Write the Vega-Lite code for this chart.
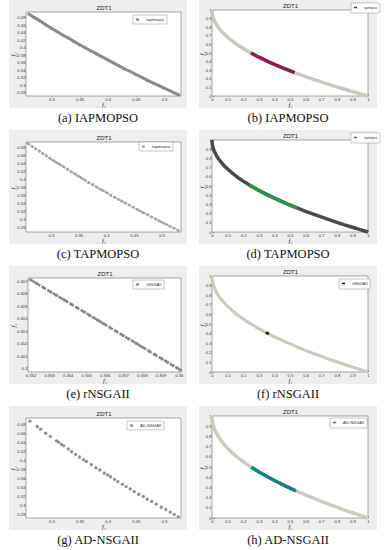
{
 "$schema": "https://vega.github.io/schema/vega-lite/v6.json",
 "background": "white",
 "padding": {"left": 9, "top": 0, "right": 0, "bottom": 0},
 "spacing": 5,
 "datasets": {
  "a": [{"f1":0.26,"f2":0.49},{"f1":0.27,"f2":0.48},{"f1":0.28,"f2":0.471},{"f1":0.29,"f2":0.461},{"f1":0.3,"f2":0.452},{"f1":0.31,"f2":0.443},{"f1":0.32,"f2":0.434},{"f1":0.33,"f2":0.426},{"f1":0.34,"f2":0.417},{"f1":0.35,"f2":0.408},{"f1":0.36,"f2":0.4},{"f1":0.37,"f2":0.392},{"f1":0.38,"f2":0.384},{"f1":0.39,"f2":0.376},{"f1":0.4,"f2":0.368},{"f1":0.41,"f2":0.36},{"f1":0.42,"f2":0.352},{"f1":0.43,"f2":0.344},{"f1":0.44,"f2":0.337},{"f1":0.45,"f2":0.329},{"f1":0.46,"f2":0.322},{"f1":0.47,"f2":0.314},{"f1":0.48,"f2":0.307},{"f1":0.49,"f2":0.3},{"f1":0.5,"f2":0.293},{"f1":0.51,"f2":0.286},{"f1":0.52,"f2":0.279},{"f1":0.526,"f2":0.275}],
  "c": [{"f1":0.258,"f2":0.492},{"f1":0.266,"f2":0.484},{"f1":0.272,"f2":0.478},{"f1":0.279,"f2":0.472},{"f1":0.286,"f2":0.465},{"f1":0.292,"f2":0.46},{"f1":0.3,"f2":0.452},{"f1":0.307,"f2":0.446},{"f1":0.314,"f2":0.44},{"f1":0.322,"f2":0.433},{"f1":0.33,"f2":0.426},{"f1":0.338,"f2":0.419},{"f1":0.345,"f2":0.413},{"f1":0.353,"f2":0.406},{"f1":0.36,"f2":0.4},{"f1":0.368,"f2":0.393},{"f1":0.376,"f2":0.387},{"f1":0.384,"f2":0.38},{"f1":0.392,"f2":0.374},{"f1":0.4,"f2":0.368},{"f1":0.408,"f2":0.361},{"f1":0.416,"f2":0.355},{"f1":0.424,"f2":0.349},{"f1":0.433,"f2":0.342},{"f1":0.441,"f2":0.336},{"f1":0.449,"f2":0.33},{"f1":0.457,"f2":0.324},{"f1":0.466,"f2":0.317},{"f1":0.474,"f2":0.312},{"f1":0.482,"f2":0.306},{"f1":0.49,"f2":0.3},{"f1":0.498,"f2":0.294},{"f1":0.506,"f2":0.289},{"f1":0.514,"f2":0.283},{"f1":0.522,"f2":0.278},{"f1":0.53,"f2":0.272}],
  "e": [{"f1":0.352,"f2":0.4071},{"f1":0.3523,"f2":0.40683},{"f1":0.3527,"f2":0.40648},{"f1":0.3531,"f2":0.40612},{"f1":0.3534,"f2":0.40586},{"f1":0.3538,"f2":0.4055},{"f1":0.3542,"f2":0.40515},{"f1":0.3545,"f2":0.40488},{"f1":0.3549,"f2":0.40453},{"f1":0.3552,"f2":0.40426},{"f1":0.3556,"f2":0.40391},{"f1":0.3559,"f2":0.40364},{"f1":0.3563,"f2":0.40328},{"f1":0.3566,"f2":0.40302},{"f1":0.357,"f2":0.40266},{"f1":0.3573,"f2":0.4024},{"f1":0.3577,"f2":0.40204},{"f1":0.358,"f2":0.40178},{"f1":0.3584,"f2":0.40142},{"f1":0.3587,"f2":0.40115},{"f1":0.3591,"f2":0.4008},{"f1":0.3594,"f2":0.40053},{"f1":0.3597,"f2":0.40027},{"f1":0.3599,"f2":0.40009},{"f1":0.3601,"f2":0.39991}],
  "g": [{"f1":0.262,"f2":0.488},{"f1":0.275,"f2":0.476},{"f1":0.281,"f2":0.47},{"f1":0.29,"f2":0.461},{"f1":0.298,"f2":0.454},{"f1":0.309,"f2":0.444},{"f1":0.313,"f2":0.441},{"f1":0.318,"f2":0.436},{"f1":0.322,"f2":0.433},{"f1":0.33,"f2":0.426},{"f1":0.336,"f2":0.42},{"f1":0.343,"f2":0.414},{"f1":0.35,"f2":0.408},{"f1":0.357,"f2":0.402},{"f1":0.362,"f2":0.398},{"f1":0.371,"f2":0.391},{"f1":0.379,"f2":0.384},{"f1":0.386,"f2":0.379},{"f1":0.394,"f2":0.372},{"f1":0.4,"f2":0.368},{"f1":0.405,"f2":0.364},{"f1":0.412,"f2":0.358},{"f1":0.418,"f2":0.353},{"f1":0.426,"f2":0.347},{"f1":0.433,"f2":0.342},{"f1":0.44,"f2":0.337},{"f1":0.447,"f2":0.331},{"f1":0.455,"f2":0.325},{"f1":0.463,"f2":0.32},{"f1":0.47,"f2":0.314},{"f1":0.478,"f2":0.309},{"f1":0.486,"f2":0.303},{"f1":0.495,"f2":0.296},{"f1":0.503,"f2":0.291},{"f1":0.511,"f2":0.285},{"f1":0.518,"f2":0.28},{"f1":0.525,"f2":0.275}],
  "front": [{"f1":0,"f2":1},{"f1":0.002,"f2":0.9553},{"f1":0.005,"f2":0.9293},{"f1":0.01,"f2":0.9},{"f1":0.02,"f2":0.8586},{"f1":0.035,"f2":0.8129},{"f1":0.05,"f2":0.7764},{"f1":0.075,"f2":0.7261},{"f1":0.1,"f2":0.6838},{"f1":0.15,"f2":0.6127},{"f1":0.2,"f2":0.5528},{"f1":0.25,"f2":0.5},{"f1":0.3,"f2":0.4523},{"f1":0.35,"f2":0.4084},{"f1":0.4,"f2":0.3675},{"f1":0.45,"f2":0.3292},{"f1":0.5,"f2":0.2929},{"f1":0.55,"f2":0.2584},{"f1":0.6,"f2":0.2254},{"f1":0.65,"f2":0.1938},{"f1":0.7,"f2":0.1633},{"f1":0.75,"f2":0.134},{"f1":0.8,"f2":0.1056},{"f1":0.85,"f2":0.078},{"f1":0.9,"f2":0.0513},{"f1":0.95,"f2":0.0253},{"f1":1,"f2":0}],
  "b": [{"f1":0.25,"f2":0.5},{"f1":0.28,"f2":0.4708},{"f1":0.31,"f2":0.4432},{"f1":0.34,"f2":0.4169},{"f1":0.37,"f2":0.3917},{"f1":0.4,"f2":0.3675},{"f1":0.43,"f2":0.3443},{"f1":0.46,"f2":0.3218},{"f1":0.49,"f2":0.3},{"f1":0.53,"f2":0.272}],
  "d": [{"f1":0.24,"f2":0.5101},{"f1":0.28,"f2":0.4708},{"f1":0.32,"f2":0.4343},{"f1":0.36,"f2":0.4},{"f1":0.4,"f2":0.3675},{"f1":0.44,"f2":0.3367},{"f1":0.48,"f2":0.3072},{"f1":0.51,"f2":0.2859},{"f1":0.545,"f2":0.2618}],
  "f": [{"f1":0.345,"f2":0.4126},{"f1":0.35,"f2":0.4084},{"f1":0.355,"f2":0.4042},{"f1":0.36,"f2":0.4},{"f1":0.365,"f2":0.3958}],
  "h": [{"f1":0.253,"f2":0.497},{"f1":0.29,"f2":0.4615},{"f1":0.33,"f2":0.4255},{"f1":0.37,"f2":0.3917},{"f1":0.41,"f2":0.3597},{"f1":0.45,"f2":0.3292},{"f1":0.49,"f2":0.3},{"f1":0.538,"f2":0.2665}]
 },
 "vconcat": [
  {"hconcat": [
   {"width": 178, "height": 108, "title": {"text": "(a) IAPMOPSO"},
    "layer": [
     {"data": {"values": [{}]}, "mark": {"type": "rect", "fill": "white", "stroke": "#4d4d4d", "strokeWidth": 0.5},
      "encoding": {
       "x": {"datum": 0.255, "type": "quantitative", "scale": {"domain": [0.255, 0.53], "range": [17, 172], "nice": false, "zero": false}, "axis": {"orient": "top", "offset": -12, "labels": false, "ticks": false, "title": "ZDT1", "titleFont": "Liberation Sans", "titleFontStyle": "normal", "titleFontSize": 6, "titlePadding": 1.5}},
       "x2": {"datum": 0.53},
       "y": {"datum": 0.272, "type": "quantitative", "scale": {"domain": [0.272, 0.495], "range": [96, 12], "nice": false, "zero": false}, "axis": null},
       "y2": {"datum": 0.495}}},
     {"data": {"name": "a"}, "mark": {"type": "line", "color": "#8c8c8c", "strokeWidth": 3},
      "encoding": {
       "x": {"field": "f1", "type": "quantitative", "scale": {"domain": [0.255, 0.53], "range": [17, 172], "nice": false, "zero": false}, "axis": {"orient": "bottom", "offset": -12, "values": [0.3, 0.35, 0.4, 0.45, 0.5], "format": "~g", "title": "f₁"}},
       "y": {"field": "f2", "type": "quantitative", "scale": {"domain": [0.272, 0.495], "range": [96, 12], "nice": false, "zero": false}, "axis": {"orient": "left", "offset": -17, "values": [0.28, 0.3, 0.32, 0.34, 0.36, 0.38, 0.4, 0.42, 0.44, 0.46, 0.48], "format": "~g", "title": "f₂", "titleX": -10}}}},
     {"data": {"name": "a"}, "mark": {"type": "circle", "size": 9, "opacity": 1},
      "encoding": {
       "x": {"field": "f1", "type": "quantitative", "axis": null},
       "y": {"field": "f2", "type": "quantitative", "axis": null},
       "color": {"datum": "iapmopso", "type": "nominal", "scale": {"range": ["#8c8c8c"]}, "legend": {"title": null, "legendX": 124, "legendY": 15}}}}
    ],
    "resolve": {"axis": {"x": "independent", "y": "independent"}}},
   {"width": 178, "height": 108, "title": {"text": "(b) IAPMOPSO"},
    "layer": [
     {"data": {"values": [{}]}, "mark": {"type": "rect", "fill": "white", "stroke": "#4d4d4d", "strokeWidth": 0.5},
      "encoding": {
       "x": {"datum": 0, "type": "quantitative", "scale": {"domain": [0, 1], "range": [13, 169], "nice": false, "zero": false}, "axis": {"orient": "top", "offset": -10, "labels": false, "ticks": false, "title": "ZDT1", "titleFont": "Liberation Sans", "titleFontStyle": "normal", "titleFontSize": 6, "titlePadding": 1.5}},
       "x2": {"datum": 1},
       "y": {"datum": 0, "type": "quantitative", "scale": {"domain": [0, 1], "range": [96, 10], "nice": false, "zero": false}, "axis": null},
       "y2": {"datum": 1}}},
     {"data": {"name": "front"}, "mark": {"type": "line", "color": "#c9c9c0", "strokeWidth": 3.5, "interpolate": "monotone"},
      "encoding": {
       "x": {"field": "f1", "type": "quantitative", "scale": {"domain": [0, 1], "range": [13, 169], "nice": false, "zero": false}, "axis": {"orient": "bottom", "offset": -12, "values": [0, 0.1, 0.2, 0.3, 0.4, 0.5, 0.6, 0.7, 0.8, 0.9, 1], "format": "~g", "title": "f₁"}},
       "y": {"field": "f2", "type": "quantitative", "scale": {"domain": [0, 1], "range": [96, 10], "nice": false, "zero": false}, "axis": {"orient": "left", "offset": -13, "values": [0, 0.1, 0.2, 0.3, 0.4, 0.5, 0.6, 0.7, 0.8, 0.9, 1], "format": "~g", "title": "f₂", "titleX": -7}}}},
     {"data": {"name": "b"}, "mark": {"type": "line", "strokeWidth": 3.5, "interpolate": "monotone"},
      "encoding": {
       "x": {"field": "f1", "type": "quantitative", "axis": null},
       "y": {"field": "f2", "type": "quantitative", "axis": null},
       "color": {"datum": "iapmopso", "type": "nominal", "scale": {"range": ["#8b1c4b"]}, "legend": {"title": null, "legendX": 152, "legendY": 3, "labelFontSize": 3}}}}
    ],
    "resolve": {"axis": {"x": "independent", "y": "independent"}}}
  ], "spacing": 12, "resolve": {"scale": {"color": "independent"}, "legend": {"color": "independent"}}},
  {"hconcat": [
   {"width": 178, "height": 114, "title": {"text": "(c) TAPMOPSO"},
    "layer": [
     {"data": {"values": [{}]}, "mark": {"type": "rect", "fill": "white", "stroke": "#4d4d4d", "strokeWidth": 0.5},
      "encoding": {
       "x": {"datum": 0.255, "type": "quantitative", "scale": {"domain": [0.255, 0.535], "range": [17, 172], "nice": false, "zero": false}, "axis": {"orient": "top", "offset": -12, "labels": false, "ticks": false, "title": "ZDT1", "titleFont": "Liberation Sans", "titleFontStyle": "normal", "titleFontSize": 6, "titlePadding": 1.5}},
       "x2": {"datum": 0.535},
       "y": {"datum": 0.268, "type": "quantitative", "scale": {"domain": [0.268, 0.495], "range": [102, 12], "nice": false, "zero": false}, "axis": null},
       "y2": {"datum": 0.495}}},
     {"data": {"name": "c"}, "mark": {"type": "line", "color": "#a3a3a3", "strokeWidth": 2.4, "strokeDash": [3, 1.2]},
      "encoding": {
       "x": {"field": "f1", "type": "quantitative", "scale": {"domain": [0.255, 0.535], "range": [17, 172], "nice": false, "zero": false}, "axis": {"orient": "bottom", "offset": -12, "values": [0.3, 0.35, 0.4, 0.45, 0.5], "format": "~g", "title": "f₁"}},
       "y": {"field": "f2", "type": "quantitative", "scale": {"domain": [0.268, 0.495], "range": [102, 12], "nice": false, "zero": false}, "axis": {"orient": "left", "offset": -17, "values": [0.28, 0.3, 0.32, 0.34, 0.36, 0.38, 0.4, 0.42, 0.44, 0.46, 0.48], "format": "~g", "title": "f₂", "titleX": -10}}}},
     {"data": {"name": "c"}, "mark": {"type": "circle", "size": 6, "opacity": 1},
      "encoding": {
       "x": {"field": "f1", "type": "quantitative", "axis": null},
       "y": {"field": "f2", "type": "quantitative", "axis": null},
       "color": {"datum": "tapmopso", "type": "nominal", "scale": {"range": ["#a3a3a3"]}, "legend": {"title": null, "legendX": 130, "legendY": 12}}}}
    ],
    "resolve": {"axis": {"x": "independent", "y": "independent"}}},
   {"width": 178, "height": 114, "title": {"text": "(d) TAPMOPSO"},
    "layer": [
     {"data": {"values": [{}]}, "mark": {"type": "rect", "fill": "white", "stroke": "#4d4d4d", "strokeWidth": 0.5},
      "encoding": {
       "x": {"datum": 0, "type": "quantitative", "scale": {"domain": [0, 1], "range": [13, 169], "nice": false, "zero": false}, "axis": {"orient": "top", "offset": -10, "labels": false, "ticks": false, "title": "ZDT1", "titleFont": "Liberation Sans", "titleFontStyle": "normal", "titleFontSize": 6, "titlePadding": 1.5}},
       "x2": {"datum": 1},
       "y": {"datum": 0, "type": "quantitative", "scale": {"domain": [0, 1], "range": [102, 10], "nice": false, "zero": false}, "axis": null},
       "y2": {"datum": 1}}},
     {"data": {"name": "front"}, "mark": {"type": "line", "color": "#4a4a4a", "strokeWidth": 3.5, "interpolate": "monotone"},
      "encoding": {
       "x": {"field": "f1", "type": "quantitative", "scale": {"domain": [0, 1], "range": [13, 169], "nice": false, "zero": false}, "axis": {"orient": "bottom", "offset": -12, "values": [0, 0.1, 0.2, 0.3, 0.4, 0.5, 0.6, 0.7, 0.8, 0.9, 1], "format": "~g", "title": "f₁"}},
       "y": {"field": "f2", "type": "quantitative", "scale": {"domain": [0, 1], "range": [102, 10], "nice": false, "zero": false}, "axis": {"orient": "left", "offset": -13, "values": [0, 0.1, 0.2, 0.3, 0.4, 0.5, 0.6, 0.7, 0.8, 0.9, 1], "format": "~g", "title": "f₂", "titleX": -7}}}},
     {"data": {"name": "d"}, "mark": {"type": "line", "strokeWidth": 3.5, "interpolate": "monotone"},
      "encoding": {
       "x": {"field": "f1", "type": "quantitative", "axis": null},
       "y": {"field": "f2", "type": "quantitative", "axis": null},
       "color": {"datum": "tapmopso", "type": "nominal", "scale": {"range": ["#2f8f55"]}, "legend": {"title": null, "legendX": 152, "legendY": 3, "labelFontSize": 3}}}}
    ],
    "resolve": {"axis": {"x": "independent", "y": "independent"}}}
  ], "spacing": 12, "resolve": {"scale": {"color": "independent"}, "legend": {"color": "independent"}}},
  {"hconcat": [
   {"width": 178, "height": 118, "title": {"text": "(e) rNSGAII"},
    "layer": [
     {"data": {"values": [{}]}, "mark": {"type": "rect", "fill": "white", "stroke": "#4d4d4d", "strokeWidth": 0.5},
      "encoding": {
       "x": {"datum": 0.35186, "type": "quantitative", "scale": {"domain": [0.35186, 0.36012], "range": [19, 172], "nice": false, "zero": false}, "axis": {"orient": "top", "offset": -12, "labels": false, "ticks": false, "title": "ZDT1", "titleFont": "Liberation Sans", "titleFontStyle": "normal", "titleFontSize": 6, "titlePadding": 1.5}},
       "x2": {"datum": 0.36012},
       "y": {"datum": 0.39976, "type": "quantitative", "scale": {"domain": [0.39976, 0.40724], "range": [106, 12], "nice": false, "zero": false}, "axis": null},
       "y2": {"datum": 0.40724}}},
     {"data": {"name": "e"}, "mark": {"type": "line", "color": "#8a8a8a", "strokeWidth": 2.6, "strokeDash": [5, 1.5]},
      "encoding": {
       "x": {"field": "f1", "type": "quantitative", "scale": {"domain": [0.35186, 0.36012], "range": [19, 172], "nice": false, "zero": false}, "axis": {"orient": "bottom", "offset": -12, "values": [0.352, 0.353, 0.354, 0.355, 0.356, 0.357, 0.358, 0.359, 0.36], "format": "~g", "title": "f₁"}},
       "y": {"field": "f2", "type": "quantitative", "scale": {"domain": [0.39976, 0.40724], "range": [106, 12], "nice": false, "zero": false}, "axis": {"orient": "left", "offset": -19, "values": [0.4, 0.401, 0.402, 0.403, 0.404, 0.405, 0.406, 0.407], "format": "~g", "title": "f₂", "titleX": -12}}}},
     {"data": {"name": "e"}, "mark": {"type": "circle", "size": 10, "opacity": 1},
      "encoding": {
       "x": {"field": "f1", "type": "quantitative", "axis": null},
       "y": {"field": "f2", "type": "quantitative", "axis": null},
       "color": {"datum": "rNSGAII", "type": "nominal", "scale": {"range": ["#8a8a8a"]}, "legend": {"title": null, "legendX": 124, "legendY": 14}}}}
    ],
    "resolve": {"axis": {"x": "independent", "y": "independent"}}},
   {"width": 178, "height": 118, "title": {"text": "(f) rNSGAII"},
    "layer": [
     {"data": {"values": [{}]}, "mark": {"type": "rect", "fill": "white", "stroke": "#4d4d4d", "strokeWidth": 0.5},
      "encoding": {
       "x": {"datum": 0, "type": "quantitative", "scale": {"domain": [0, 1], "range": [13, 169], "nice": false, "zero": false}, "axis": {"orient": "top", "offset": -10, "labels": false, "ticks": false, "title": "ZDT1", "titleFont": "Liberation Sans", "titleFontStyle": "normal", "titleFontSize": 6, "titlePadding": 1.5}},
       "x2": {"datum": 1},
       "y": {"datum": 0, "type": "quantitative", "scale": {"domain": [0, 1], "range": [106, 10], "nice": false, "zero": false}, "axis": null},
       "y2": {"datum": 1}}},
     {"data": {"name": "front"}, "mark": {"type": "line", "color": "#cbcbc2", "strokeWidth": 3.2, "interpolate": "monotone"},
      "encoding": {
       "x": {"field": "f1", "type": "quantitative", "scale": {"domain": [0, 1], "range": [13, 169], "nice": false, "zero": false}, "axis": {"orient": "bottom", "offset": -12, "values": [0, 0.1, 0.2, 0.3, 0.4, 0.5, 0.6, 0.7, 0.8, 0.9, 1], "format": "~g", "title": "f₁"}},
       "y": {"field": "f2", "type": "quantitative", "scale": {"domain": [0, 1], "range": [106, 10], "nice": false, "zero": false}, "axis": {"orient": "left", "offset": -13, "values": [0, 0.1, 0.2, 0.3, 0.4, 0.5, 0.6, 0.7, 0.8, 0.9, 1], "format": "~g", "title": "f₂", "titleX": -7}}}},
     {"data": {"name": "f"}, "mark": {"type": "line", "strokeWidth": 2.5},
      "encoding": {
       "x": {"field": "f1", "type": "quantitative", "axis": null},
       "y": {"field": "f2", "type": "quantitative", "axis": null},
       "color": {"datum": "rNSGAII", "type": "nominal", "scale": {"range": ["#111111"]}, "legend": {"title": null, "legendX": 140, "legendY": 13}}}}
    ],
    "resolve": {"axis": {"x": "independent", "y": "independent"}}}
  ], "spacing": 12, "resolve": {"scale": {"color": "independent"}, "legend": {"color": "independent"}}},
  {"hconcat": [
   {"width": 178, "height": 124, "title": {"text": "(g) AD-NSGAII"},
    "layer": [
     {"data": {"values": [{}]}, "mark": {"type": "rect", "fill": "white", "stroke": "#4d4d4d", "strokeWidth": 0.5},
      "encoding": {
       "x": {"datum": 0.255, "type": "quantitative", "scale": {"domain": [0.255, 0.53], "range": [17, 172], "nice": false, "zero": false}, "axis": {"orient": "top", "offset": -12, "labels": false, "ticks": false, "title": "ZDT1", "titleFont": "Liberation Sans", "titleFontStyle": "normal", "titleFontSize": 6, "titlePadding": 1.5}},
       "x2": {"datum": 0.53},
       "y": {"datum": 0.272, "type": "quantitative", "scale": {"domain": [0.272, 0.495], "range": [112, 12], "nice": false, "zero": false}, "axis": null},
       "y2": {"datum": 0.495}}},
     {"data": {"name": "g"}, "mark": {"type": "circle", "size": 11, "opacity": 1},
      "encoding": {
       "x": {"field": "f1", "type": "quantitative", "scale": {"domain": [0.255, 0.53], "range": [17, 172], "nice": false, "zero": false}, "axis": {"orient": "bottom", "offset": -12, "values": [0.3, 0.35, 0.4, 0.45, 0.5], "format": "~g", "title": "f₁"}},
       "y": {"field": "f2", "type": "quantitative", "scale": {"domain": [0.272, 0.495], "range": [112, 12], "nice": false, "zero": false}, "axis": {"orient": "left", "offset": -17, "values": [0.28, 0.3, 0.32, 0.34, 0.36, 0.38, 0.4, 0.42, 0.44, 0.46, 0.48], "format": "~g", "title": "f₂", "titleX": -10}},
       "color": {"datum": "AD-NSGAII", "type": "nominal", "scale": {"range": ["#8f8f8f"]}, "legend": {"title": null, "legendX": 118, "legendY": 15}}}}
    ],
    "resolve": {"axis": {"x": "independent", "y": "independent"}}},
   {"width": 178, "height": 124, "title": {"text": "(h) AD-NSGAII"},
    "layer": [
     {"data": {"values": [{}]}, "mark": {"type": "rect", "fill": "white", "stroke": "#4d4d4d", "strokeWidth": 0.5},
      "encoding": {
       "x": {"datum": 0, "type": "quantitative", "scale": {"domain": [0, 1], "range": [13, 169], "nice": false, "zero": false}, "axis": {"orient": "top", "offset": -10, "labels": false, "ticks": false, "title": "ZDT1", "titleFont": "Liberation Sans", "titleFontStyle": "normal", "titleFontSize": 6, "titlePadding": 1.5}},
       "x2": {"datum": 1},
       "y": {"datum": 0, "type": "quantitative", "scale": {"domain": [0, 1], "range": [112, 10], "nice": false, "zero": false}, "axis": null},
       "y2": {"datum": 1}}},
     {"data": {"name": "front"}, "mark": {"type": "line", "color": "#cbcbc2", "strokeWidth": 3.5, "interpolate": "monotone"},
      "encoding": {
       "x": {"field": "f1", "type": "quantitative", "scale": {"domain": [0, 1], "range": [13, 169], "nice": false, "zero": false}, "axis": {"orient": "bottom", "offset": -12, "values": [0, 0.1, 0.2, 0.3, 0.4, 0.5, 0.6, 0.7, 0.8, 0.9, 1], "format": "~g", "title": "f₁"}},
       "y": {"field": "f2", "type": "quantitative", "scale": {"domain": [0, 1], "range": [112, 10], "nice": false, "zero": false}, "axis": {"orient": "left", "offset": -13, "values": [0, 0.1, 0.2, 0.3, 0.4, 0.5, 0.6, 0.7, 0.8, 0.9, 1], "format": "~g", "title": "f₂", "titleX": -7}}}},
     {"data": {"name": "h"}, "mark": {"type": "line", "strokeWidth": 3.5, "interpolate": "monotone"},
      "encoding": {
       "x": {"field": "f1", "type": "quantitative", "axis": null},
       "y": {"field": "f2", "type": "quantitative", "axis": null},
       "color": {"datum": "AD-NSGAII", "type": "nominal", "scale": {"range": ["#1b7f7c"]}, "legend": {"title": null, "legendX": 131, "legendY": 12}}}}
    ],
    "resolve": {"axis": {"x": "independent", "y": "independent"}}}
  ], "spacing": 12, "resolve": {"scale": {"color": "independent"}, "legend": {"color": "independent"}}}
 ],
 "resolve": {"scale": {"color": "independent"}, "legend": {"color": "independent"}},
 "config": {
  "view": {"fill": "#eeeeee", "stroke": null},
  "font": "Liberation Sans",
  "axis": {"labelFont": "Liberation Sans", "labelFontSize": 4.2, "labelColor": "#333333", "titleFont": "Liberation Serif", "titleFontSize": 6.5, "titleFontStyle": "italic", "titleFontWeight": "normal", "titleColor": "#222222", "titlePadding": 0, "grid": false, "domain": false, "tickSize": -2, "tickColor": "#555555", "tickWidth": 0.5, "labelPadding": 3, "zindex": 1, "labelFlush": false, "labelOverlap": false},
  "legend": {"orient": "none", "fillColor": "white", "strokeColor": "#8c8c8c", "strokeWidth": 0.5, "padding": 2, "labelFont": "Liberation Sans", "labelFontSize": 4.2, "labelColor": "#333333", "symbolSize": 10, "labelOffset": 6, "rowPadding": 0, "symbolStrokeWidth": 1.5},
  "title": {"font": "Liberation Serif", "fontSize": 12.5, "fontWeight": "normal", "color": "#111111", "orient": "bottom", "offset": 4, "anchor": "middle"}
 }
}
